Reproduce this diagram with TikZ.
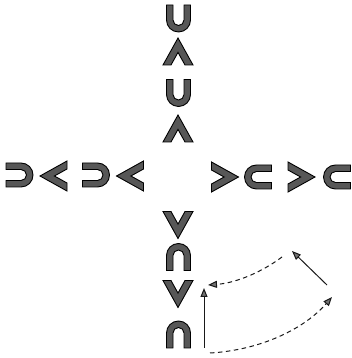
\documentclass[tikz,border=0pt]{standalone}
\usetikzlibrary{arrows.meta}
\tikzset{
  shapestyle/.style={fill=black!66, draw=black, line width=0.9pt, line join=miter},
  ushape/.pic={\path[shapestyle] (-12,13.5) -- (-12,-1.5) arc[start angle=180,end angle=360,radius=12] -- (12,13.5) -- (5.5,13.5) -- (5.5,-1.5) arc[start angle=0,end angle=-180,radius=5.5] -- (-5.5,13.5) -- cycle;},
  chev/.pic={\path[shapestyle] (0,13.5) -- (15,-13.5) -- (7,-13.5) -- (0,-0.9) -- (-7,-13.5) -- (-15,-13.5) -- cycle;},
  tip/.style={-{Triangle[length=9pt,width=7pt,fill=black!55]}},
  solidarrow/.style={tip, draw=black!90, line width=1pt},
  dasharrow/.style={tip, draw=black!90, line width=1pt, dash pattern=on 4.5pt off 3.5pt}
}
\begin{document}
\begin{tikzpicture}[x=1pt,y=1pt]
\useasboundingbox (0,0) rectangle (351,358);
% top column
\pic at (178.5,339.5) {ushape};
\pic at (178,306.5) {chev};
\pic at (178.5,265) {ushape};
\pic at (178,229.5) {chev};
% bottom column
\pic[rotate=180] at (178,133) {chev};
\pic[rotate=180] at (178.5,101) {ushape};
\pic[rotate=180] at (178,64) {chev};
\pic[rotate=180] at (178.5,23.5) {ushape};
% left row
\pic[rotate=90] at (19.5,183) {ushape};
\pic[rotate=90] at (53.5,182) {chev};
\pic[rotate=90] at (96,183) {ushape};
\pic[rotate=90] at (130,182) {chev};
% right row
\pic[rotate=-90] at (225,181) {chev};
\pic[rotate=-90] at (258,181) {ushape};
\pic[rotate=-90] at (301.5,181) {chev};
\pic[rotate=-90] at (337,181) {ushape};
% arrows
\coordinate (a1s) at (204,10);
\coordinate (a1e) at (204,70);
\coordinate (d1s) at (210,5);
\coordinate (d1e) at (332,61);
\coordinate (a2s) at (327,73);
\coordinate (a2e) at (292,107);
\coordinate (d2s) at (282,101);
\coordinate (d2e) at (208,73);
\draw[solidarrow] (a1s) -- (a1e);
\draw[dasharrow] (d1s) .. controls (262,8) and (305,30) .. (d1e);
\draw[solidarrow] (a2s) -- (a2e);
\draw[dasharrow] (d2s) .. controls (262,86) and (236,75) .. (d2e);
\end{tikzpicture}
\end{document}
